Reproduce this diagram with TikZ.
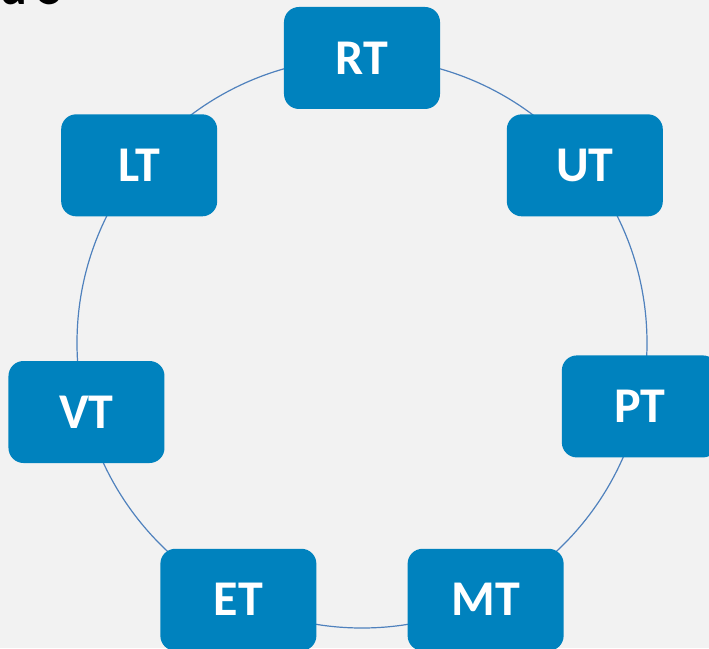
\documentclass[tikz,border=0pt]{standalone}
\usepackage{fontspec}
\setmainfont{Carlito}
\usepackage{tikz}
\usetikzlibrary{calc}

\definecolor{boxblue}{RGB}{0,130,190}
\definecolor{ringblue}{RGB}{79,129,189}
\definecolor{bggray}{RGB}{242,242,242}

\tikzset{
  tbox/.style={rectangle, rounded corners=15pt, fill=boxblue, text=white,
    minimum width=156pt, minimum height=102pt, inner sep=0pt,
    font=\fontsize{50}{60}\selectfont\bfseries},
  ring/.style={line width=1.2pt, ringblue}
}

\begin{document}
\begin{tikzpicture}[x=1pt,y=1pt]
          \fill[bggray] (-362,-305) rectangle (347,343);
          \useasboundingbox (-362,-305) rectangle (347,343);
          \clip (-362,-305) rectangle (347,343);

          \node[anchor=base west, font=\fontsize{50}{60}\selectfont\bfseries] (title) at (-365,338) {d 5};

          \coordinate (c) at (0,0);
          \draw[ring] (c) circle (285);

          \node[tbox] (rt) at (90:285) {RT};
          \node[tbox] (ut) at (38.57:285) {UT};
          \node[tbox] (pt) at (-12.86:285) {PT};
          \node[tbox] (mt) at (-64.29:285) {MT};
          \node[tbox] (et) at (-115.71:285) {ET};
          \node[tbox] (vt) at (-275.5,-69) {VT};
          \node[tbox] (lt) at (141.43:285) {LT};
        \end{tikzpicture}
\end{document}
